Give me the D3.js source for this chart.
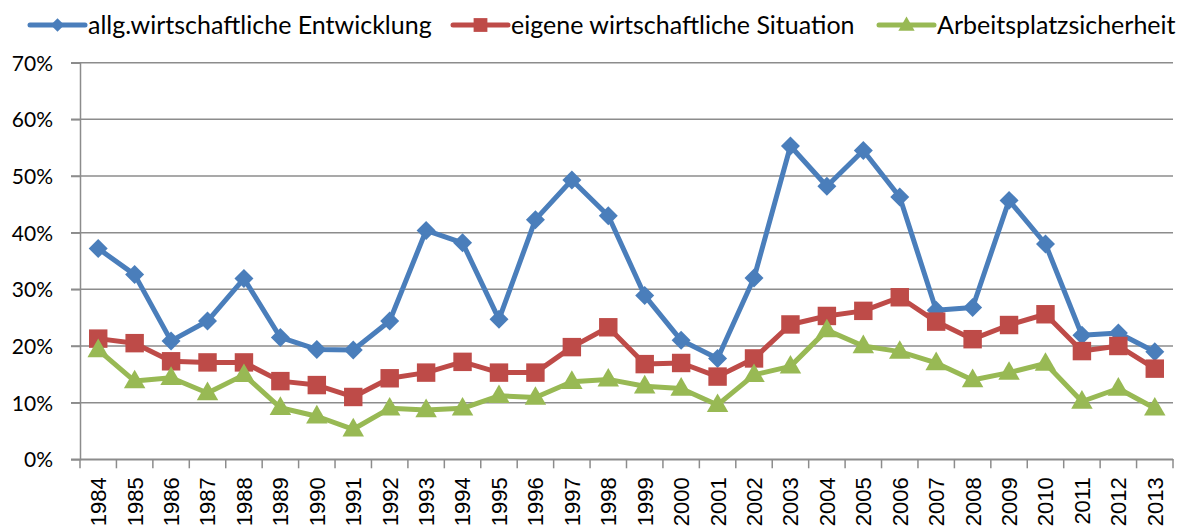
<!DOCTYPE html>
<html>
<head>
<meta charset="utf-8">
<script src="https://cdn.jsdelivr.net/npm/d3@7"></script>
<style>
  body { margin: 0; background: #fff; }
  svg { display: block; font-family: Lato, "Open Sans", sans-serif; }
</style>
</head>
<body>
<div class="canvas"></div>
<script>
const years = ['1984','1985','1986','1987','1988','1989','1990','1991','1992','1993','1994','1995','1996','1997','1998','1999','2000','2001','2002','2003','2004','2005','2006','2007','2008','2009','2010','2011','2012','2013'];

const allgEntwicklung = [37.2,32.6,20.9,24.4,31.9,21.5,19.4,19.3,24.4,40.4,38.2,24.7,42.3,49.3,43.0,28.9,21.0,17.8,32.0,55.3,48.2,54.5,46.3,26.3,26.8,45.7,38.0,21.9,22.3,19.0];
const eigeneSituation = [21.3,20.5,17.3,17.1,17.1,13.8,13.1,11.0,14.3,15.3,17.2,15.3,15.3,19.8,23.3,16.8,17.0,14.6,17.8,23.8,25.3,26.2,28.6,24.3,21.2,23.7,25.6,19.1,20.0,16.0];
const arbeitsplatz = [19.3,13.8,14.4,11.7,14.9,9.1,7.6,5.3,9.0,8.7,9.0,11.2,10.9,13.7,14.1,12.9,12.5,9.6,14.9,16.4,22.8,20.0,19.0,17.0,14.0,15.3,16.9,10.2,12.5,9.0];

const yTicks = [0,10,20,30,40,50,60,70];

const seriesNames = ['allg.wirtschaftliche Entwicklung','eigene wirtschaftliche Situation','Arbeitsplatzsicherheit'];
const seriesColors = ['#4a7ebb','#be4b48','#98b954'];
const seriesMarkers = [d3.symbolDiamond2, d3.symbolSquare, d3.symbolTriangle];
const seriesValues = [allgEntwicklung, eigeneSituation, arbeitsplatz];

const width = 1182, height = 531;
const margin = { top: 62.7, right: 9, bottom: 71.7, left: 80 };
const chartWidth = width - margin.left - margin.right;
const chartHeight = height - margin.top - margin.bottom;

const svg = d3.select('.canvas').append('svg')
  .attr('width', width)
  .attr('height', height);

const chart = svg.append('g').attr('transform', `translate(${margin.left}, ${margin.top})`);

const xScale = d3.scaleBand().domain(years).range([0, chartWidth]);
const yScale = d3.scaleLinear().domain([0, 70]).range([chartHeight, 0]);

// gridlines
chart.append('g')
  .selectAll('line')
  .data(yTicks)
  .enter()
  .append('line')
  .attr('x1', -9)
  .attr('x2', chartWidth)
  .attr('y1', (d) => yScale(d))
  .attr('y2', (d) => yScale(d))
  .attr('stroke', '#8c8c8c')
  .attr('stroke-width', 1.5);

// y axis
const yAxis = d3.axisLeft(yScale).tickValues(yTicks).tickSize(9).tickFormat((d) => `${d}%`);
const yAxisGroup = chart.append('g').attr('class', 'y-axis').call(yAxis);
yAxisGroup.select('.domain').attr('stroke', '#8c8c8c').attr('stroke-width', 1.5);
yAxisGroup.selectAll('line').attr('stroke', '#8c8c8c').attr('stroke-width', 1.5);
yAxisGroup.selectAll('text')
  .attr('x', -27)
  .attr('dy', '0.36em')
  .attr('fill', '#000')
  .attr('font-size', '21px')
  .attr('font-family', 'Lato, sans-serif');

// x axis
const xAxis = d3.axisBottom(xScale).tickSize(0).tickSizeOuter(0);
const xAxisGroup = chart.append('g').attr('class', 'x-axis')
  .attr('transform', `translate(0, ${chartHeight})`)
  .call(xAxis);
xAxisGroup.select('.domain').attr('stroke', '#8c8c8c').attr('stroke-width', 1.5);
xAxisGroup.selectAll('text')
  .attr('transform', 'rotate(-90)')
  .attr('text-anchor', 'end')
  .attr('x', -18)
  .attr('y', 0)
  .attr('dy', '0.36em')
  .attr('fill', '#000')
  .attr('font-size', '22px')
  .attr('font-family', '"Liberation Sans", Arial, sans-serif');

// category boundary ticks
const boundaries = years.map((y) => xScale(y)).concat([chartWidth]);
chart.append('g')
  .selectAll('line')
  .data(boundaries)
  .enter()
  .append('line')
  .attr('x1', (d) => d)
  .attr('x2', (d) => d)
  .attr('y1', chartHeight)
  .attr('y2', chartHeight + 9)
  .attr('stroke', '#8c8c8c')
  .attr('stroke-width', 1.5);

const xPos = (i) => xScale(years[i]) + xScale.bandwidth() / 2;
const line = d3.line().x((d, i) => xPos(i)).y((d) => yScale(d));

const markerSizes = [230, 340, 200];
const legendMarkerSizes = [115, 190, 115];

seriesValues.forEach((values, s) => {
  chart.append('path')
    .datum(values)
    .attr('d', line)
    .attr('fill', 'none')
    .attr('stroke', seriesColors[s])
    .attr('stroke-width', 5)
    .attr('stroke-linejoin', 'round');

  chart.append('g')
    .selectAll('path')
    .data(values)
    .enter()
    .append('path')
    .attr('transform', (d, i) => `translate(${xPos(i)}, ${yScale(d) + (s === 2 ? 1 : 0)})`)
    .attr('d', d3.symbol().type(seriesMarkers[s]).size(markerSizes[s]))
    .attr('fill', seriesColors[s]);
});

// legend
const legendX = [30, 453, 879];
const legend = svg.append('g').attr('transform', 'translate(0, 25)');
seriesNames.forEach((name, s) => {
  const g = legend.append('g').attr('transform', `translate(${legendX[s]}, 0)`);
  g.append('line')
    .attr('x1', 0).attr('x2', 55)
    .attr('y1', 0).attr('y2', 0)
    .attr('stroke', seriesColors[s])
    .attr('stroke-width', 5)
    .attr('stroke-linecap', 'round');
  g.append('path')
    .attr('transform', `translate(27.5, ${s === 2 ? 1 : 0})`)
    .attr('d', d3.symbol().type(seriesMarkers[s]).size(legendMarkerSizes[s]))
    .attr('fill', seriesColors[s]);
  g.append('text')
    .attr('x', 58)
    .attr('y', 0)
    .attr('dy', '0.36em')
    .attr('font-size', '25px')
    .attr('fill', '#000')
    .text(name);
});
</script>
</body>
</html>
